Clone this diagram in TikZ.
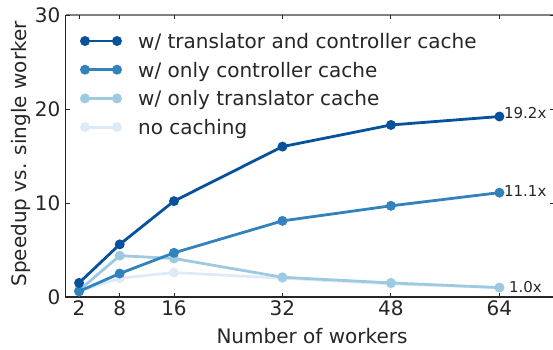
\documentclass[tikz,border=0pt]{standalone}
\usepackage{fontspec}
\setmainfont{DejaVu Sans}
\definecolor{both}{HTML}{08519C}
\definecolor{ctrl}{HTML}{3182BD}
\definecolor{trans}{HTML}{9ECAE1}
\definecolor{nocache}{HTML}{DEEBF7}
\definecolor{spine}{HTML}{262626}
\begin{document}
\begin{tikzpicture}[x=6.78pt, y=9.4pt, font=\fontsize{20}{24}\selectfont,
	series/.style={line width=2.8pt, line join=round},
	tickmark/.style={line width=0.9pt, spine},
	vlabel/.style={anchor=base west, inner sep=0pt, font=\fontsize{15}{18}\selectfont, spine}]
	\path[use as bounding box] (-65.5pt, -52pt) rectangle (487.5pt, 297pt);

	% axes
	\draw[line width=1.2pt, gray] (0, 30) -- (72, 30);
	\draw[line width=1.2pt, spine] (0, 30) -- (0, 0) -- (72, 0);
	\foreach \x in {2, 8, 16, 32, 48, 64}{
		\draw[tickmark] (\x, 0) -- ++(0, 4pt);
		\draw[tickmark] (\x, 30) -- ++(0, -4pt);
		\node[anchor=north, inner sep=0pt, spine] at ([yshift=-3pt]\x, 0) (xt\x) {\x};
	}
	\foreach \y in {0, 10, 20, 30}{
		\draw[tickmark] (0, \y) -- ++(4pt, 0);
		\draw[tickmark] (72, \y) -- ++(-4pt, 0);
		\node[anchor=east, inner sep=0pt, spine] at ([xshift=-5pt]0, \y) (yt\y) {\y};
	}
	\node[anchor=base, spine] at (246.5pt, -46pt) (xlabel) {Number of workers};
	\node[anchor=base, rotate=90, spine] at (-38.8pt, 143pt) (ylabel) {Speedup vs. single worker};

	% series
	\draw[series, nocache] plot coordinates {(2, 0.6) (8, 2.0) (16, 2.6) (32, 2.0) (48, 1.4) (64, 1.0)};
	\foreach \x/\y in {2/0.6, 8/2.0, 16/2.6, 32/2.0, 48/1.4, 64/1.0}{
		\fill[nocache] (\x, \y) circle (5pt);
	}
	\draw[series, trans] plot coordinates {(2, 0.7) (8, 4.4) (16, 4.1) (32, 2.1) (48, 1.5) (64, 1.0)};
	\foreach \x/\y in {2/0.7, 8/4.4, 16/4.1, 32/2.1, 48/1.5, 64/1.0}{
		\fill[trans] (\x, \y) circle (5pt);
	}
	\draw[series, ctrl] plot coordinates {(2, 0.6) (8, 2.5) (16, 4.7) (32, 8.1) (48, 9.7) (64, 11.1)};
	\foreach \x/\y in {2/0.6, 8/2.5, 16/4.7, 32/8.1, 48/9.7, 64/11.1}{
		\fill[ctrl] (\x, \y) circle (5pt);
	}
	\draw[series, both] plot coordinates {(2, 1.5) (8, 5.6) (16, 10.2) (32, 16.0) (48, 18.3) (64, 19.2)};
	\foreach \x/\y in {2/1.5, 8/5.6, 16/10.2, 32/16.0, 48/18.3, 64/19.2}{
		\fill[both] (\x, \y) circle (5pt);
	}
	\node[vlabel] at ([xshift=4.5pt, yshift=-2.2pt]64, 19.2) (lboth) {19.2x};
	\node[vlabel] at ([xshift=4.5pt, yshift=-3.7pt]64, 11.1) (lctrl) {11.1x};
	\node[vlabel] at ([xshift=9.5pt, yshift=-5pt]64, 1.0) (lnone) {1.0x};

	% legend
	\foreach \col/\i in {both/0, ctrl/1, trans/2, nocache/3}{
		\draw[series, \col] (19.5pt, {256pt - 28.7pt*\i}) -- (51.5pt, {256pt - 28.7pt*\i});
		\fill[\col] (19.5pt, {256pt - 28.7pt*\i}) circle (5pt);
		\fill[\col] (51.5pt, {256pt - 28.7pt*\i}) circle (5pt);
	}
	\node[anchor=base west, inner sep=0pt, spine] at (72.5pt, 248.7pt) (leg1) {w/ translator and controller cache};
	\node[anchor=base west, inner sep=0pt, spine] at (72.5pt, 220pt) (leg2) {w/ only controller cache};
	\node[anchor=base west, inner sep=0pt, spine] at (72.5pt, 191.3pt) (leg3) {w/ only translator cache};
	\node[anchor=base west, inner sep=0pt, spine] at (72.5pt, 162.6pt) (leg4) {no caching};
\end{tikzpicture}
\end{document}
